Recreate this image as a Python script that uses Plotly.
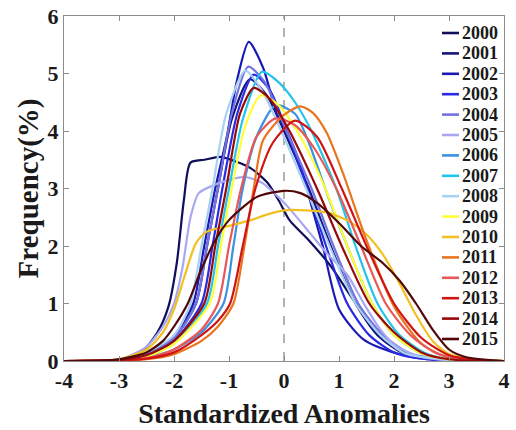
import plotly.graph_objects as go

years = [str(y) for y in range(2000, 2016)]
colors = ["#0f0f5c", "#15157e", "#1a1ab2", "#2a2ae4", "#7272e0", "#a8a8f2",
          "#3c90e0", "#22c4ea", "#a8d2f2", "#ffff38", "#f2c020", "#e8761e",
          "#e85858", "#d01414", "#960a0a", "#520808"]

x2000 = [-4, -3, -2.6, -2.3, -2.1, -1.95, -1.82, -1.7, -1.45, -1.15, -0.85, -0.6, -0.3, -0.1, 0.1, 0.45, 0.85, 1.2, 1.6, 2.0, 2.5, 3, 4]
y2000 = [0, 0.02, 0.15, 0.5, 0.95, 1.7, 2.8, 3.45, 3.5, 3.55, 3.46, 3.35, 3.1, 2.8, 2.45, 2.1, 1.65, 1.15, 0.6, 0.25, 0.06, 0.01, 0]
x2001 = [-4, -3, -2.5, -2.0, -1.6, -1.4, -1.2, -0.95, -0.62, -0.3, 0, 0.45, 0.85, 1.3, 1.7, 2.2, 3, 4]
y2001 = [0, 0.02, 0.12, 0.4, 1.0, 2.0, 3.0, 4.2, 4.9, 4.6, 4.0, 3.0, 2.0, 1.0, 0.45, 0.12, 0.01, 0]
x2002 = [-4, -3, -2.5, -2.0, -1.65, -1.45, -1.25, -1.04, -0.85, -0.64, -0.38, -0.13, 0.05, 0.3, 0.5, 0.71, 1.0, 1.45, 2.05, 2.6, 4]
y2002 = [0, 0.02, 0.12, 0.4, 1.0, 2.0, 3.0, 3.9, 4.9, 5.55, 5.1, 4.3, 4.0, 3.4, 2.7, 1.98, 0.9, 0.37, 0.13, 0.03, 0]
x2003 = [-4, -3, -2.5, -2.0, -1.5, -1.3, -1.12, -0.85, -0.55, -0.25, 0.05, 0.42, 0.8, 1.15, 1.55, 2.0, 2.6, 4]
y2003 = [0, 0.02, 0.1, 0.35, 1.0, 2.0, 3.0, 4.3, 4.98, 4.7, 4.0, 3.0, 1.9, 1.0, 0.45, 0.15, 0.03, 0]
x2004 = [-4, -3, -2.5, -2.0, -1.6, -1.4, -1.2, -0.95, -0.65, -0.35, 0, 0.5, 0.9, 1.35, 1.8, 2.3, 3, 4]
y2004 = [0, 0.02, 0.12, 0.4, 1.0, 2.0, 3.0, 4.3, 5.12, 4.85, 4.1, 3.0, 2.0, 1.0, 0.45, 0.13, 0.02, 0]
x2005 = [-4, -3, -2.5, -2.2, -2.0, -1.85, -1.7, -1.55, -1.3, -1.0, -0.7, -0.4, -0.1, 0.1, 0.45, 0.8, 1.15, 1.45, 1.75, 2.05, 2.5, 3, 4]
y2005 = [0, 0.02, 0.25, 0.6, 1.0, 1.6, 2.5, 2.92, 3.05, 3.15, 3.2, 3.1, 2.85, 2.65, 2.25, 1.85, 1.5, 1.0, 0.55, 0.25, 0.07, 0.01, 0]
x2006 = [-4, -3, -2.5, -2.0, -1.5, -1.1, -0.92, -0.75, -0.5, -0.15, 0.2, 0.45, 0.75, 1.15, 1.6, 2.0, 2.5, 3, 4]
y2006 = [0, 0.01, 0.05, 0.2, 0.5, 1.0, 2.0, 3.0, 3.9, 4.45, 4.3, 3.8, 3.0, 2.0, 1.0, 0.45, 0.13, 0.03, 0]
x2007 = [-4, -3, -2.5, -2.0, -1.4, -1.2, -1.0, -0.75, -0.4, -0.1, 0.2, 0.5, 0.95, 1.3, 1.7, 2.1, 2.6, 3, 4]
y2007 = [0, 0.02, 0.08, 0.3, 1.0, 2.0, 3.0, 4.2, 5.03, 4.85, 4.5, 4.0, 3.0, 2.0, 1.0, 0.45, 0.12, 0.03, 0]
x2008 = [-4, -3, -2.5, -2.0, -1.7, -1.5, -1.3, -1.05, -0.7, -0.4, -0.05, 0.4, 0.85, 1.3, 1.75, 2.2, 3, 4]
y2008 = [0, 0.02, 0.15, 0.45, 1.0, 2.0, 3.0, 4.3, 5.05, 4.7, 4.0, 3.0, 1.95, 1.0, 0.45, 0.13, 0.02, 0]
x2009 = [-4, -3, -2.5, -2.0, -1.35, -1.15, -0.95, -0.7, -0.42, -0.1, 0.3, 0.75, 1.15, 1.6, 2.0, 2.5, 3, 4]
y2009 = [0, 0.02, 0.08, 0.3, 1.0, 2.0, 3.0, 4.1, 4.62, 4.45, 3.9, 3.0, 2.0, 1.0, 0.45, 0.13, 0.03, 0]
x2010 = [-4, -3, -2.5, -2.2, -2.0, -1.8, -1.6, -1.4, -1.0, -0.6, -0.3, 0, 0.4, 0.8, 1.2, 1.5, 1.8, 2.1, 2.4, 2.7, 3.0, 3.5, 4]
y2010 = [0, 0.03, 0.2, 0.5, 0.9, 1.5, 2.05, 2.25, 2.35, 2.45, 2.55, 2.62, 2.62, 2.58, 2.42, 2.2, 1.85, 1.35, 0.8, 0.35, 0.12, 0.02, 0]
x2011 = [-4, -3, -2.5, -2.0, -1.5, -1.2, -0.92, -0.72, -0.55, -0.38, 0, 0.3, 0.53, 0.78, 1.07, 1.5, 2.0, 2.5, 3, 4]
y2011 = [0, 0.01, 0.03, 0.12, 0.35, 0.6, 1.0, 2.0, 3.0, 3.84, 4.28, 4.43, 4.31, 3.96, 3.27, 2.1, 0.95, 0.3, 0.06, 0]
x2012 = [-4, -3, -2.5, -2.0, -1.5, -1.2, -1.0, -0.78, -0.5, -0.15, 0.2, 0.55, 0.95, 1.4, 1.85, 2.3, 2.8, 3.3, 4]
y2012 = [0, 0.02, 0.05, 0.2, 0.55, 1.0, 2.0, 3.0, 3.9, 4.22, 4.1, 3.7, 3.0, 2.0, 1.0, 0.45, 0.12, 0.03, 0]
x2013 = [-4, -3, -2.5, -2.0, -1.5, -1.2, -0.98, -0.75, -0.52, -0.2, 0.2, 0.6, 1.05, 1.5, 2.0, 2.5, 3.0, 3.5, 4]
y2013 = [0, 0.01, 0.04, 0.15, 0.45, 0.7, 1.0, 2.0, 3.0, 3.8, 4.18, 3.9, 3.0, 2.0, 1.0, 0.4, 0.1, 0.02, 0]
x2014 = [-4, -3, -2.5, -2.0, -1.45, -1.25, -1.05, -0.8, -0.55, -0.25, 0.1, 0.6, 1.05, 1.55, 2.0, 2.5, 3, 4]
y2014 = [0, 0.02, 0.1, 0.35, 1.0, 2.0, 3.0, 4.3, 4.75, 4.55, 4.0, 3.0, 2.0, 1.0, 0.5, 0.15, 0.03, 0]
x2015 = [-4, -3, -2.5, -2.2, -2.0, -1.75, -1.5, -1.25, -1.0, -0.5, 0, 0.3, 0.6, 1.0, 1.4, 1.8, 2.1, 2.4, 2.7, 3.0, 3.3, 4]
y2015 = [0, 0.03, 0.15, 0.35, 0.6, 1.0, 1.6, 2.1, 2.45, 2.85, 2.96, 2.92, 2.75, 2.4, 2.0, 1.7, 1.4, 1.0, 0.55, 0.2, 0.07, 0]

xs = [x2000, x2001, x2002, x2003, x2004, x2005, x2006, x2007, x2008, x2009, x2010, x2011, x2012, x2013, x2014, x2015]
ys = [y2000, y2001, y2002, y2003, y2004, y2005, y2006, y2007, y2008, y2009, y2010, y2011, y2012, y2013, y2014, y2015]

xticks = [-4, -3, -2, -1, 0, 1, 2, 3, 4]
yticks = [0, 1, 2, 3, 4, 5, 6]

FONT = "Liberation Serif"
TXT = "#1a1a1a"

W, H = 516, 430
ML, MR, MT, MB = 64, 12, 16, 69
PW, PH = W - ML - MR, H - MT - MB

fig = go.Figure()
for name, xv, yv, c in zip(years, xs, ys, colors):
    fig.add_trace(go.Scatter(x=xv, y=yv, mode="lines", name=name, showlegend=False,
                             line=dict(color=c, width=2.2, shape="spline", smoothing=0.7)))

fig.add_shape(type="line", x0=0, x1=0, y0=0, y1=6, xref="x", yref="y",
              line=dict(color="#9a9a9a", width=1.5, dash="dash"), layer="below")

# custom legend (text entries + line samples), positioned in paper coordinates
leg_top_px, leg_step_px = 33, 20.4
line_x0_px, line_x1_px, text_x_px = 442, 459, 460
for i, (name, c) in enumerate(zip(years, colors)):
    py = leg_top_px + i * leg_step_px
    yp = (MT + PH - py) / PH
    fig.add_shape(type="line", xref="paper", yref="paper",
                  x0=(line_x0_px - ML) / PW, x1=(line_x1_px - ML) / PW, y0=yp, y1=yp,
                  line=dict(color=c, width=2.6))
    fig.add_annotation(xref="paper", yref="paper", x=(text_x_px - ML) / PW, y=yp,
                       xanchor="left", yanchor="middle", showarrow=False, text=name,
                       font=dict(family=FONT, size=18, color=TXT, weight="bold"))

axis_common = dict(showgrid=False, zeroline=False, showline=True, linecolor="#8c8c8c",
                   linewidth=1, mirror="ticks", ticks="inside", ticklen=5,
                   tickcolor="#8c8c8c", automargin=False,
                   tickfont=dict(family=FONT, size=22, color=TXT, weight="bold"))

fig.update_layout(
    width=W, height=H,
    margin=dict(l=ML, r=MR, t=MT, b=MB, autoexpand=False),
    paper_bgcolor="white", plot_bgcolor="white",
    font=dict(family=FONT, color=TXT),
    xaxis=dict(range=[-4, 4], tickvals=xticks, ticktext=[str(v) for v in xticks],
               title=dict(text="Standardized Anomalies", standoff=10,
                          font=dict(family=FONT, size=28, weight="bold", color=TXT)),
               **axis_common),
    yaxis=dict(range=[0, 6], tickvals=yticks, ticktext=[str(v) for v in yticks],
               title=dict(text="Frequency(%)", standoff=0,
                          font=dict(family=FONT, size=29, weight="bold", color=TXT)),
               **axis_common),
    showlegend=False,
)

fig.write_html("out.html", config={"displayModeBar": False},
               post_script="document.body.style.margin='0';")
